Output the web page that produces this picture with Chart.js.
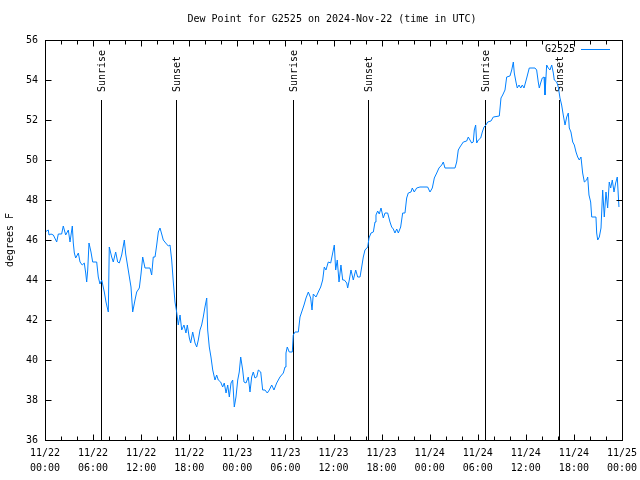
<!DOCTYPE html>
<html>
<head>
<meta charset="utf-8">
<script src="https://cdn.jsdelivr.net/npm/chart.js@4"></script>
<style>
  html, body { margin: 0; padding: 0; background: #fff; }
  canvas { display: block; }
</style>
</head>
<body>
<canvas id="myChart" width="640" height="480"></canvas>
<script>
// hours since 11/22 00:00 UTC
const hours = [
  0, 0.41, 0.50, 0.75, 1.04, 1.46, 1.66, 2.08, 2.28, 2.58, 2.91, 3.12, 3.41, 3.53, 3.66, 3.83, 4.16, 4.37, 4.65, 4.90,
  5.08, 5.20, 5.33, 5.49, 5.74, 5.95, 6.45, 6.65, 6.86, 7.08, 7.40, 7.61, 7.90, 8.02, 8.32, 8.52, 8.82, 9.07, 9.27, 9.57,
  9.90, 10.07, 10.39, 10.73, 10.94, 11.23, 11.44, 11.77, 11.98, 12.19, 12.48, 13.10, 13.31, 13.51, 13.73, 13.94, 14.14, 14.35, 14.56, 14.76,
  15.06, 15.39, 15.60, 15.81, 16.01, 16.22, 16.43,
  16.63, 16.85, 17.06, 17.34, 17.59, 17.76, 18.01, 18.18, 18.43, 18.72, 18.93, 19.13, 19.34, 19.55, 19.75, 19.96, 20.18, 20.30, 20.50, 20.71,
  20.93, 21.21, 21.42, 21.62, 21.92, 22.17, 22.37, 22.59, 22.80, 23.00, 23.21, 23.42, 23.62, 23.83, 24.05, 24.24, 24.42, 24.67, 24.83, 25.08,
  25.37, 25.58, 25.79, 25.99, 26.20, 26.42, 26.62, 26.92, 27.16, 27.45, 27.74, 27.99, 28.29, 28.57, 28.91, 29.32, 29.74, 29.95, 30.07, 30.23,
  30.48, 30.86, 30.98, 31.20, 31.61,
  31.82, 32.03, 32.32, 32.57, 32.86, 33.15, 33.32, 33.48, 33.82, 34.10, 34.40, 34.65, 34.85, 35.06, 35.35, 35.65, 35.90, 36.10, 36.27, 36.47,
  36.69, 36.93, 37.15, 37.35, 37.65, 37.77, 37.97, 38.18, 38.47, 38.77, 39.02, 39.31, 39.52, 39.72, 39.93, 40.27, 40.43, 40.68, 40.97, 41.18,
  41.30, 41.51, 41.71, 41.93, 42.21, 42.43, 42.76, 43.05, 43.26, 43.46, 43.67, 43.89, 44.09, 44.38, 44.63, 44.92,
  45.13, 45.33, 45.67, 45.83, 46.08, 46.38, 46.79, 47.75, 48.04, 48.33, 48.58, 48.88, 49.16, 49.50, 49.70, 49.91, 51.16, 51.37, 51.57, 51.78,
  52.20, 52.62, 52.82, 53.03, 53.24, 53.44, 53.57, 53.74, 53.87, 54.07, 54.37, 54.57, 54.78, 55.03, 55.24, 55.65, 55.94, 56.69, 56.90, 57.11,
  57.40, 57.61, 58.02, 58.24, 58.44, 58.56, 58.77, 58.93, 59.15, 59.36, 59.56, 59.77,
  60.11, 60.43, 61.14, 61.35, 61.55, 61.68, 61.85, 62.05, 62.27, 62.39, 62.60, 62.80, 63.01, 63.23, 63.43, 63.55, 63.85, 64.05, 64.26, 64.47,
  64.67, 64.89, 65.10, 65.30, 65.42, 65.63, 65.85, 66.05, 66.26, 66.47, 66.67, 66.88, 67.09, 67.30, 67.59, 67.72, 67.88, 68.09, 68.22, 68.75,
  68.84, 68.97, 69.17, 69.38, 69.59, 69.79, 70.00, 70.21, 70.41, 70.59, 70.79, 71.00, 71.21, 71.41, 71.62
];

const dewPoint = [
  46.4, 46.5, 46.25, 46.3, 46.25, 45.9, 46.3, 46.3, 46.7, 46.25, 46.5, 45.9, 46.7, 45.85, 45.35, 45.1, 45.35, 44.9, 44.75, 44.85,
  44.35, 43.9, 44.5, 45.85, 45.4, 44.9, 44.9, 44.15, 43.8, 44.0, 43.4, 42.9, 42.4, 45.65, 45.15, 44.9, 45.4, 44.9, 44.85, 45.25,
  46.0, 45.3, 44.5, 43.65, 42.4, 43.0, 43.4, 43.6, 44.3, 45.15, 44.6, 44.6, 44.25, 45.15, 45.15, 45.75, 46.4, 46.6, 46.3, 46.0,
  45.85, 45.7, 45.75, 45.0, 43.9, 42.9, 42.4,
  41.75, 42.25, 41.5, 41.75, 41.35, 41.75, 41.1, 40.85, 41.4, 40.85, 40.65, 41.0, 41.5, 41.75, 42.15, 42.65, 43.1, 41.5, 40.65, 40.15,
  39.5, 39.0, 39.25, 39.0, 38.9, 38.65, 38.85, 38.35, 38.75, 38.15, 38.85, 39.0, 37.65, 38.15, 39.0, 39.4, 40.15, 39.5, 38.9, 38.85,
  39.15, 38.4, 39.15, 39.4, 39.1, 39.15, 39.5, 39.4, 38.5, 38.5, 38.35, 38.5, 38.75, 38.5, 38.85, 39.15, 39.35, 39.65, 40.35, 40.65,
  40.4, 40.4, 41.25, 41.4, 41.4,
  42.15, 42.4, 42.75, 43.1, 43.4, 43.1, 42.5, 43.3, 43.15, 43.4, 43.65, 44.0, 44.65, 44.5, 44.9, 44.85, 45.35, 45.75, 44.5, 45.0,
  43.9, 44.75, 44.0, 44.0, 43.85, 43.6, 44.0, 44.5, 44.0, 44.5, 44.15, 44.15, 44.65, 45.15, 45.5, 45.65, 46.1, 46.35, 46.4, 46.9,
  47.25, 47.45, 47.3, 47.6, 47.1, 47.35, 47.35, 46.9, 46.65, 46.55, 46.35, 46.55, 46.35, 46.65, 47.35, 47.35,
  48.1, 48.35, 48.4, 48.6, 48.4, 48.6, 48.65, 48.65, 48.4, 48.6, 49.1, 49.35, 49.6, 49.75, 49.9, 49.6, 49.6, 49.9, 50.5, 50.65,
  50.9, 50.95, 51.15, 51.0, 50.85, 50.9, 51.5, 51.75, 50.85, 51.0, 51.1, 51.4, 51.65, 51.75, 51.9, 51.95, 52.15, 52.2, 53.1, 53.25,
  53.5, 54.15, 54.2, 54.5, 54.9, 54.35, 53.9, 53.6, 53.75, 53.6, 53.75, 53.6,
  54.1, 54.6, 54.6, 54.5, 53.9, 53.6, 53.85, 54.1, 54.15, 53.25, 54.75, 54.6, 54.5, 54.75, 54.35, 54.0, 53.9, 53.65, 53.1, 52.75,
  52.25, 51.75, 52.15, 52.35, 51.6, 51.4, 50.9, 50.75, 50.4, 50.15, 50.0, 50.15, 49.35, 48.9, 49.0, 49.15, 48.25, 47.9, 47.15, 47.15,
  46.35, 46.0, 46.15, 46.6, 48.5, 47.15, 48.4, 47.6, 48.9, 48.6, 49.0, 48.4, 48.85, 49.15, 47.65
];

const sunrise = [6.99, 30.98, 54.95];
const sunset = [16.35, 40.33, 64.18];

const tickDates = ['11/22', '11/22', '11/22', '11/22', '11/23', '11/23', '11/23', '11/23', '11/24', '11/24', '11/24', '11/24', '11/25'];
const tickTimes = ['00:00', '06:00', '12:00', '18:00', '00:00', '06:00', '12:00', '18:00', '00:00', '06:00', '12:00', '18:00', '00:00'];

const FONT = '10px "DejaVu Sans Mono"';

// gnuplot style: box border, inward ticks, sun lines, title and key
const gnuplotLook = {
  id: 'gnuplotLook',
  beforeDatasetsDraw(chart) {
    const { ctx, chartArea: a, scales: { x, y } } = chart;
    ctx.save();
    ctx.strokeStyle = '#000';
    ctx.fillStyle = '#000';
    ctx.lineWidth = 1;
    ctx.font = FONT;
    const top = Math.round(y.getPixelForValue(53));
    const drawSun = (h, label) => {
      const px = Math.round(x.getPixelForValue(h)) + 0.5;
      ctx.beginPath();
      ctx.moveTo(px, top);
      ctx.lineTo(px, a.bottom);
      ctx.stroke();
      ctx.save();
      ctx.translate(px + 1, top - 8);
      ctx.rotate(-Math.PI / 2);
      ctx.textAlign = 'left';
      ctx.textBaseline = 'middle';
      ctx.fillText(label, 0, 0);
      ctx.restore();
    };
    sunrise.forEach(h => drawSun(h, 'Sunrise'));
    sunset.forEach(h => drawSun(h, 'Sunset'));
    ctx.restore();
  },
  afterDraw(chart) {
    const { ctx, chartArea: a, scales: { x, y } } = chart;
    ctx.save();
    ctx.strokeStyle = '#000';
    ctx.fillStyle = '#000';
    ctx.lineWidth = 1;
    const L = Math.round(a.left) + 0.5, R = Math.round(a.right) + 0.5;
    const T = Math.round(a.top) + 0.5, B = Math.round(a.bottom) + 0.5;
    ctx.strokeRect(L, T, R - L, B - T);

    ctx.beginPath();
    for (let h = 0; h <= 72; h += 2) {
      const px = Math.round(x.getPixelForValue(h)) + 0.5;
      const len = h % 6 === 0 ? 6 : 4;
      ctx.moveTo(px, B); ctx.lineTo(px, B - len);
      ctx.moveTo(px, T); ctx.lineTo(px, T + len);
    }
    for (let v = 36; v <= 56; v += 2) {
      const py = Math.round(y.getPixelForValue(v)) + 0.5;
      ctx.moveTo(L, py); ctx.lineTo(L + 6, py);
      ctx.moveTo(R, py); ctx.lineTo(R - 6, py);
    }
    ctx.stroke();

    ctx.font = FONT;
    ctx.textBaseline = 'middle';
    ctx.textAlign = 'center';
    ctx.fillText('Dew Point for G2525 on 2024-Nov-22 (time in UTC)', 332, 19);

    // key
    ctx.textAlign = 'right';
    ctx.fillText('G2525', 575, 49);
    ctx.strokeStyle = '#0080ff';
    ctx.beginPath();
    ctx.moveTo(581, 49.5);
    ctx.lineTo(610, 49.5);
    ctx.stroke();
    ctx.restore();
  }
};

const config = {
  type: 'line',
  data: {
    datasets: [{
      label: 'G2525',
      data: hours.map((h, i) => ({ x: h, y: dewPoint[i] })),
      borderColor: '#0080ff',
      backgroundColor: '#0080ff',
      borderWidth: 1,
      pointRadius: 0,
      tension: 0,
      fill: false
    }]
  },
  options: {
    responsive: false,
    animation: false,
    devicePixelRatio: 1,
    layout: { padding: { top: 40, right: 18, left: 0, bottom: 0 } },
    plugins: {
      legend: { display: false },
      tooltip: { enabled: false }
    },
    scales: {
      x: {
        type: 'linear',
        min: 0,
        max: 72,
        afterBuildTicks(scale) {
          scale.ticks = tickTimes.map((t, i) => ({ value: i * 6 }));
        },
        afterFit(scale) {
          scale.height = 40;
          scale.paddingLeft = 0;
          scale.paddingRight = 0;
        },
        grid: { display: false, drawTicks: false },
        border: { display: false },
        ticks: {
          autoSkip: false,
          maxRotation: 0,
          padding: 6,
          color: '#000',
          font: { family: 'DejaVu Sans Mono', size: 10, lineHeight: 1.5 },
          callback: (v) => [tickDates[v / 6], tickTimes[v / 6]]
        }
      },
      y: {
        min: 36,
        max: 56,
        afterFit(scale) {
          scale.width = 45;
          scale.paddingTop = 0;
          scale.paddingBottom = 0;
        },
        grid: { display: false, drawTicks: false },
        border: { display: false },
        ticks: {
          stepSize: 2,
          padding: 7,
          color: '#000',
          font: { family: 'DejaVu Sans Mono', size: 10 }
        },
        title: {
          display: true,
          text: 'degrees F',
          color: '#000',
          font: { family: 'DejaVu Sans Mono', size: 10 }
        }
      }
    }
  },
  plugins: [gnuplotLook]
};

const myChart = new Chart(document.getElementById('myChart'), config);
</script>
</body>
</html>
